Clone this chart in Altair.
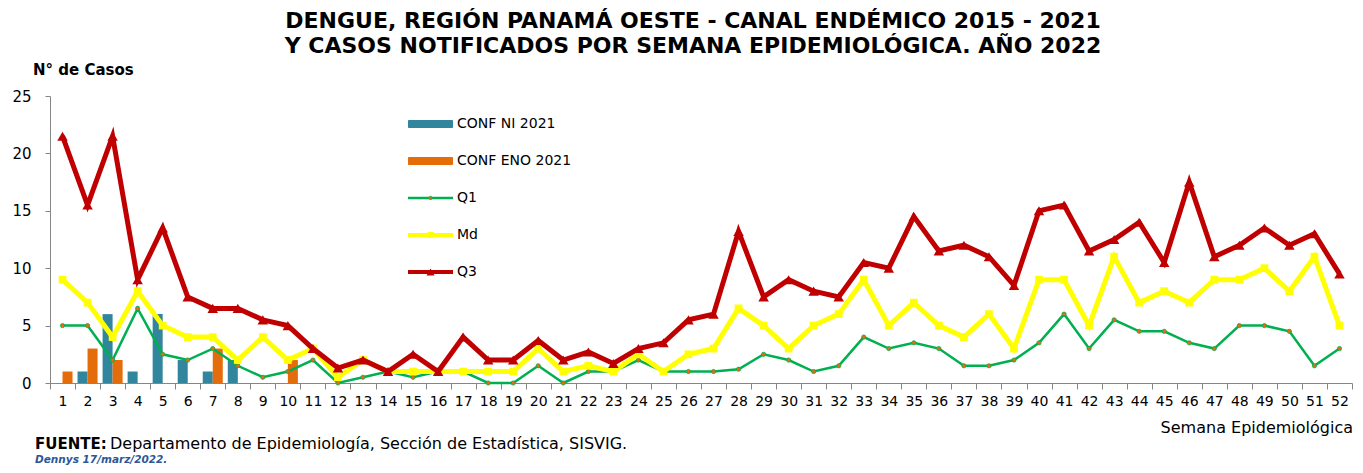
import altair as alt
import pandas as pd

weeks = list(range(1, 53))
conf_ni_2021 = [0, 1, 6, 1, 6, 2, 1, 2, 0, 0] + [0] * 42
conf_eno_2021 = [1, 3, 2, 0, 0, 0, 3, 0, 0, 2] + [0] * 42
q1 = [5, 5, 2, 6.5, 2.5, 2, 3, 1.5, 0.5, 1, 2, 0, 0.5, 1, 0.5, 1, 1, 0, 0, 1.5,
      0, 1, 1, 2, 1, 1, 1, 1.2, 2.5, 2, 1, 1.5, 4, 3, 3.5, 3, 1.5, 1.5, 2, 3.5,
      6, 3, 5.5, 4.5, 4.5, 3.5, 3, 5, 5, 4.5, 1.5, 3]
md = [9, 7, 4, 8, 5, 4, 4, 2, 4, 2, 3, 0.5, 2, 1, 1, 1, 1, 1, 1, 3,
      1, 1.5, 1, 2.5, 1, 2.5, 3, 6.5, 5, 3, 5, 6, 9, 5, 7, 5, 4, 6, 3, 9,
      9, 5, 11, 7, 8, 7, 9, 9, 10, 8, 11, 5]
q3 = [21.5, 15.5, 21.5, 9, 13.5, 7.5, 6.5, 6.5, 5.5, 5, 3, 1.3, 2, 1, 2.5, 1, 4, 2, 2, 3.7,
      2, 2.7, 1.7, 3, 3.5, 5.5, 6, 13.2, 7.5, 9, 8, 7.5, 10.5, 10, 14.5, 11.5, 12, 11, 8.5, 15,
      15.5, 11.5, 12.5, 14, 10.5, 17.5, 11, 12, 13.5, 12, 13, 9.5]
bar_series = ["CONF NI 2021", "CONF ENO 2021"]
line_series = ["Q1", "Md", "Q3"]
title_lines = ["DENGUE, REGIÓN PANAMÁ OESTE - CANAL ENDÉMICO 2015 - 2021",
               "Y CASOS NOTIFICADOS POR SEMANA EPIDEMIOLÓGICA. AÑO 2022"]

W, H = 1302, 287
FONT = "DejaVu Sans"

bars_rows = []
for w, a, b in zip(weeks, conf_ni_2021, conf_eno_2021):
    if a:
        bars_rows.append({"week": w, "series": bar_series[0], "value": a})
    if b:
        bars_rows.append({"week": w, "series": bar_series[1], "value": b})
bars_df = pd.DataFrame(bars_rows)
lines_df = pd.DataFrame({"week": weeks, "Q1": q1, "Md": md, "Q3": q3})

xscale = alt.Scale(domain=weeks, paddingInner=0, paddingOuter=0)
yscale = alt.Scale(domain=[0, 25], nice=False)

xaxis = alt.Axis(title=None, labelAngle=0, labelFontSize=14, labelFont=FONT,
                 labelColor="#000000", tickBand="extent", tickSize=6,
                 tickColor="#868686", domainColor="#868686", labelPadding=5,
                 labelFlush=False, labelOverlap=False, grid=False)
yaxis = alt.Axis(title=None, values=[0, 5, 10, 15, 20, 25], labelFontSize=15,
                 labelFont=FONT, labelColor="#000000", tickSize=5,
                 tickColor="#868686", domainColor="#868686", labelPadding=14,
                 grid=False)

bars = alt.Chart(bars_df).mark_bar().encode(
    x=alt.X("week:O", scale=xscale, axis=xaxis),
    xOffset=alt.XOffset("series:N", scale=alt.Scale(domain=bar_series, paddingOuter=0.25, paddingInner=0)),
    y=alt.Y("value:Q", scale=yscale, axis=yaxis),
    color=alt.Color("series:N", scale=alt.Scale(domain=bar_series, range=["#31859C", "#E46C0A"]), legend=None),
)

styles = {
    "Q1": dict(color="#00B050", width=2.5, shape="circle", size=18, fill="#E46C0A", pstroke="#00B050", psw=0.8),
    "Md": dict(color="#FFFF00", width=5, shape="square", size=60, fill="#FFFF00", pstroke="#FFFF00", psw=0),
    "Q3": dict(color="#C00000", width=5, shape="triangle-up", size=110, fill="#C00000", pstroke="#C00000", psw=0),
}

layers = [bars]
for s in line_series:
    st = styles[s]
    base = alt.Chart(lines_df).encode(
        x=alt.X("week:O", scale=xscale, axis=xaxis),
        y=alt.Y(f"{s}:Q", scale=yscale, axis=yaxis),
    )
    layers.append(base.mark_line(color=st["color"], strokeWidth=st["width"]))
    layers.append(base.mark_point(shape=st["shape"], size=st["size"], filled=True,
                                  fill=st["fill"], stroke=st["pstroke"],
                                  strokeWidth=st["psw"], opacity=1))

dummy = pd.DataFrame({"d": [0]})

# legend (manual)
leg_x0, leg_x1, leg_y0, leg_dy = 358, 403, 28, 37
legend_entries = bar_series + line_series
for i, name in enumerate(legend_entries):
    yy = leg_y0 + i * leg_dy
    if name in bar_series:
        col = ["#31859C", "#E46C0A"][i]
        layers.append(alt.Chart(dummy).mark_rect(color=col, cornerRadius=1).encode(
            x=alt.value(leg_x0), x2=alt.value(leg_x1), y=alt.value(yy - 4), y2=alt.value(yy + 4)))
    else:
        st = styles[name]
        layers.append(alt.Chart(dummy).mark_rule(color=st["color"], strokeWidth=st["width"] - (1 if st["width"] > 3 else 0)).encode(
            x=alt.value(leg_x0), x2=alt.value(leg_x1), y=alt.value(yy)))
        layers.append(alt.Chart(dummy).mark_point(shape=st["shape"], size=st["size"] * 0.6, filled=True,
                                                  fill=st["fill"], stroke=st["pstroke"], strokeWidth=st["psw"], opacity=1).encode(
            x=alt.value((leg_x0 + leg_x1) / 2), y=alt.value(yy)))
    layers.append(alt.Chart(dummy).mark_text(text=name, align="left", baseline="middle", font=FONT,
                                             fontSize=14, color="#000000").encode(
        x=alt.value(leg_x1 + 4), y=alt.value(yy)))

# titles and annotations
layers.append(alt.Chart(dummy).mark_text(text=title_lines[0], align="center", baseline="middle", font=FONT,
                                         fontSize=22, fontWeight="bold", color="#000000").encode(
    x=alt.value(643), y=alt.value(-75)))
layers.append(alt.Chart(dummy).mark_text(text=title_lines[1], align="center", baseline="middle", font=FONT,
                                         fontSize=22, fontWeight="bold", color="#000000").encode(
    x=alt.value(643), y=alt.value(-50)))
layers.append(alt.Chart(dummy).mark_text(text="N° de Casos", align="left", baseline="middle", font=FONT,
                                         fontSize=15, fontWeight="bold", color="#000000").encode(
    x=alt.value(-17), y=alt.value(-26)))
layers.append(alt.Chart(dummy).mark_text(text="Semana Epidemiológica", align="right", baseline="middle", font=FONT,
                                         fontSize=16, color="#000000").encode(
    x=alt.value(W + 1), y=alt.value(332)))
layers.append(alt.Chart(dummy).mark_text(text="FUENTE:", align="left", baseline="middle", font=FONT,
                                         fontSize=15, fontWeight="bold", color="#000000").encode(
    x=alt.value(-15), y=alt.value(348)))
layers.append(alt.Chart(dummy).mark_text(text="Departamento de Epidemiología, Sección de Estadística, SISVIG.",
                                         align="left", baseline="middle", font=FONT,
                                         fontSize=16, color="#000000").encode(
    x=alt.value(60), y=alt.value(348)))
layers.append(alt.Chart(dummy).mark_text(text="Dennys  17/marz/2022.", align="left", baseline="middle", font=FONT,
                                         fontSize=10.5, fontWeight="bold", fontStyle="italic", color="#2E5597").encode(
    x=alt.value(-15), y=alt.value(364)))

chart = alt.layer(*layers).properties(
    width=W, height=H,
    autosize=alt.AutoSizeParams(type="none"),
    padding={"left": 42, "top": 88, "right": 3, "bottom": 82},
).configure_view(stroke=None)

chart.save("out.html", embed_options={"renderer": "svg", "actions": False})
